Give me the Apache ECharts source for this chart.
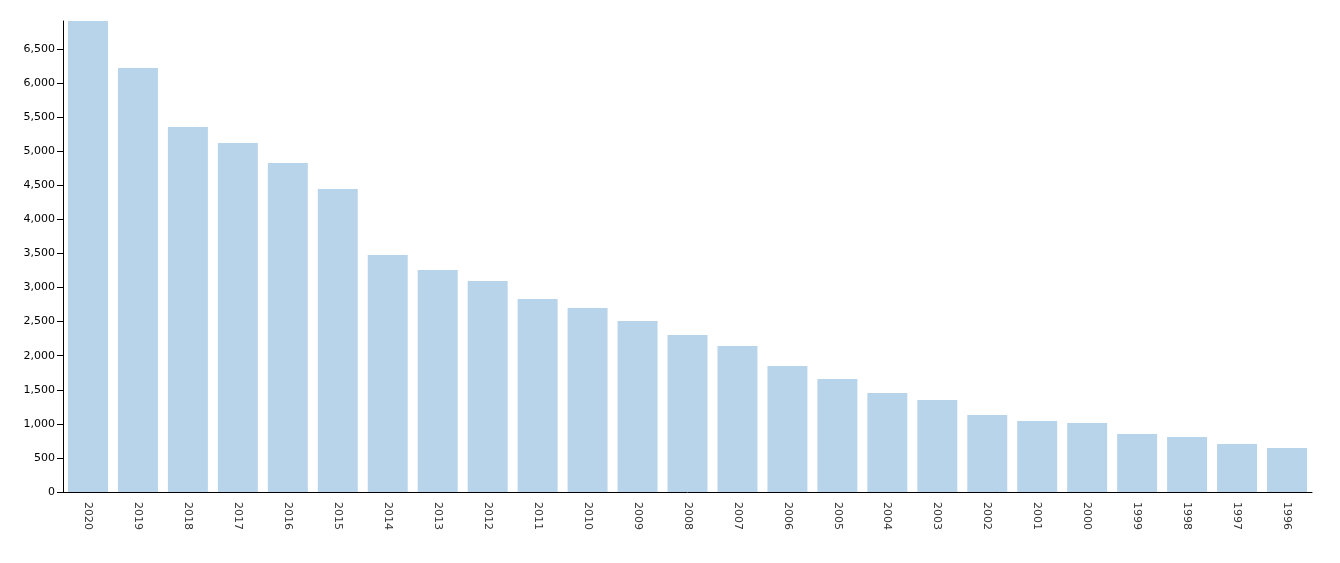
<!DOCTYPE html>
<html><head><meta charset="utf-8">
<script src="https://cdn.jsdelivr.net/npm/echarts@6/dist/echarts.min.js"></script>
<style>html,body{margin:0;padding:0;background:#fff}#c{width:1340px;height:563px}</style>
</head><body><div id="c"></div>
<script>
const categories = ["2020","2019","2018","2017","2016","2015","2014","2013","2012","2011","2010","2009","2008","2007","2006","2005","2004","2003","2002","2001","2000","1999","1998","1997","1996"];
const values = [6910,6221,5355,5120,4827,4445,3477,3257,3096,2832,2700,2509,2303,2142,1849,1658,1452,1350,1130,1042,1012,851,807,704,646];
const chart = echarts.init(document.getElementById('c'));
chart.setOption({
  animation:false,
  grid:{left:63,right:28,top:21,bottom:71},
  xAxis:{type:'category',data:categories,
    axisLine:{lineStyle:{color:'#000'}},
    axisTick:{alignWithLabel:true,lineStyle:{color:'#000'},length:6},
    axisLabel:{rotate:-90,color:'#333',fontSize:11,fontFamily:'DejaVu Sans',margin:10}},
  yAxis:{type:'value',min:0,max:6910,interval:500,
    axisLine:{show:true,lineStyle:{color:'#000'}},
    axisTick:{show:true,length:6,lineStyle:{color:'#000'}},
    splitLine:{show:false},
    axisLabel:{color:'#000',fontSize:11,fontFamily:'DejaVu Sans',showMaxLabel:false}},
  series:[{type:'bar',data:values,barCategoryGap:'20%',itemStyle:{color:'#b8d4ea'}}]
});
</script></body></html>
